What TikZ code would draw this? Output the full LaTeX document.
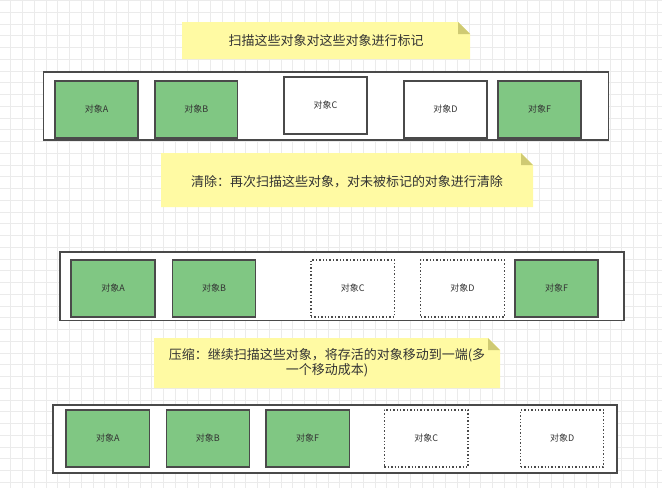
\documentclass[tikz,border=0pt]{standalone}
\usepackage{fontspec}
\newfontfamily\cjk{Noto Sans CJK SC}
\definecolor{gridc}{HTML}{EBEBEB}
\definecolor{notey}{HTML}{FFFAA3}
\definecolor{foldc}{HTML}{CFCA73}
\definecolor{greenf}{HTML}{80C783}
\definecolor{strokec}{HTML}{4A4A4A}
\definecolor{txt}{HTML}{333333}
\tikzset{
  obj/.style={rectangle, draw=strokec, line width=1.4pt, inner sep=0pt, outer sep=0pt,
    font=\cjk\fontsize{9}{10}\selectfont, text=txt},
  objg/.style={obj, fill=greenf},
  objw/.style={obj, fill=white},
  objd/.style={obj, fill=white, dotted, line width=1.3pt},
  panel/.style={rectangle, draw=strokec, line width=1.8pt, fill=white, inner sep=0pt, outer sep=0pt},
  notetxt/.style={font=\cjk\fontsize{13}{15}\selectfont, text=txt, inner sep=0pt, align=center},
}
\newcommand{\objbox}[7]{% style, name, x0, y0, x1, y1, label
  \node[#1, minimum width={#5-#3}, minimum height={#6-#4}] (#2) at ({(#3+#5)/2},{(#4+#6)/2}) {#7};}
\newcommand{\notebox}[5]{% name, x0, y0, x1, y1
  \fill[notey] (#2,#3) -- ({#4-12},#3) -- (#4,{#3+12}) -- (#4,#5) -- (#2,#5) -- cycle;
  \fill[foldc] ({#4-12},#3) -- ({#4-12},{#3+12}) -- (#4,{#3+12}) -- cycle;
  \coordinate (#1) at ({(#2+#4)/2},{(#3+#5)/2});}
\begin{document}
\begin{tikzpicture}[x=1pt,y=-1pt]
\useasboundingbox (0,0) rectangle (662,488);
\fill[white] (0,0) rectangle (662,488);
\foreach \i in {0,...,56} {\draw[gridc, line width=0.8pt] ({10.7+\i*11.75},0) -- ({10.7+\i*11.75},488);}
\foreach \j in {0,...,41} {\draw[gridc, line width=0.8pt] (0,{0.5+\j*11.75}) -- (662,{0.5+\j*11.75});}
% note 1
\notebox{n1}{182}{22}{470}{59}
\node[notetxt] (t1) at (n1) {扫描这些对象对这些对象进行标记};
% panel 1
\node[panel, minimum width=565, minimum height=68] (p1) at (326,106) {};
\objbox{objg}{a1}{55}{81}{138}{138}{对象A}
\objbox{objg}{b1}{155}{81}{237.5}{138}{对象B}
\objbox{objw}{c1}{284}{77}{367}{134}{对象C}
\objbox{objw}{d1}{404}{81}{487}{138}{对象D}
\objbox{objg}{f1}{498}{81}{581}{138}{对象F}
% note 2
\notebox{n2}{161}{153}{533}{207}
\node[notetxt] (t2) at (347,182) {清除：再次扫描这些对象，对未被标记的对象进行清除};
% panel 2
\node[panel, minimum width=564, minimum height=68.5] (p2) at (342.2,286.3) {};
\objbox{objg}{a2}{71}{260}{155}{317}{对象A}
\objbox{objg}{b2}{172.5}{260}{255.6}{317}{对象B}
\objbox{objd}{c2}{311}{260}{394.4}{317}{对象C}
\objbox{objd}{d2}{420.7}{260}{504.4}{317}{对象D}
\objbox{objg}{f2}{515}{260}{598}{317}{对象F}
% note 3
\notebox{n3}{154}{338}{500}{388}
\node[notetxt] (t3) at (327,362.5) {压缩：继续扫描这些对象，将存活的对象移动到一端(多\\一个移动成本)};
% panel 3
\node[panel, minimum width=564.6, minimum height=68.3] (p3) at (335,439.2) {};
\objbox{objg}{a3}{66}{410}{149.5}{467}{对象A}
\objbox{objg}{b3}{166.3}{410}{249.6}{467}{对象B}
\objbox{objg}{f3}{265.8}{410}{349.6}{467}{对象F}
\objbox{objd}{c3}{384.4}{410}{468.1}{467}{对象C}
\objbox{objd}{d3}{520.7}{410}{603.5}{467}{对象D}
\end{tikzpicture}
\end{document}
